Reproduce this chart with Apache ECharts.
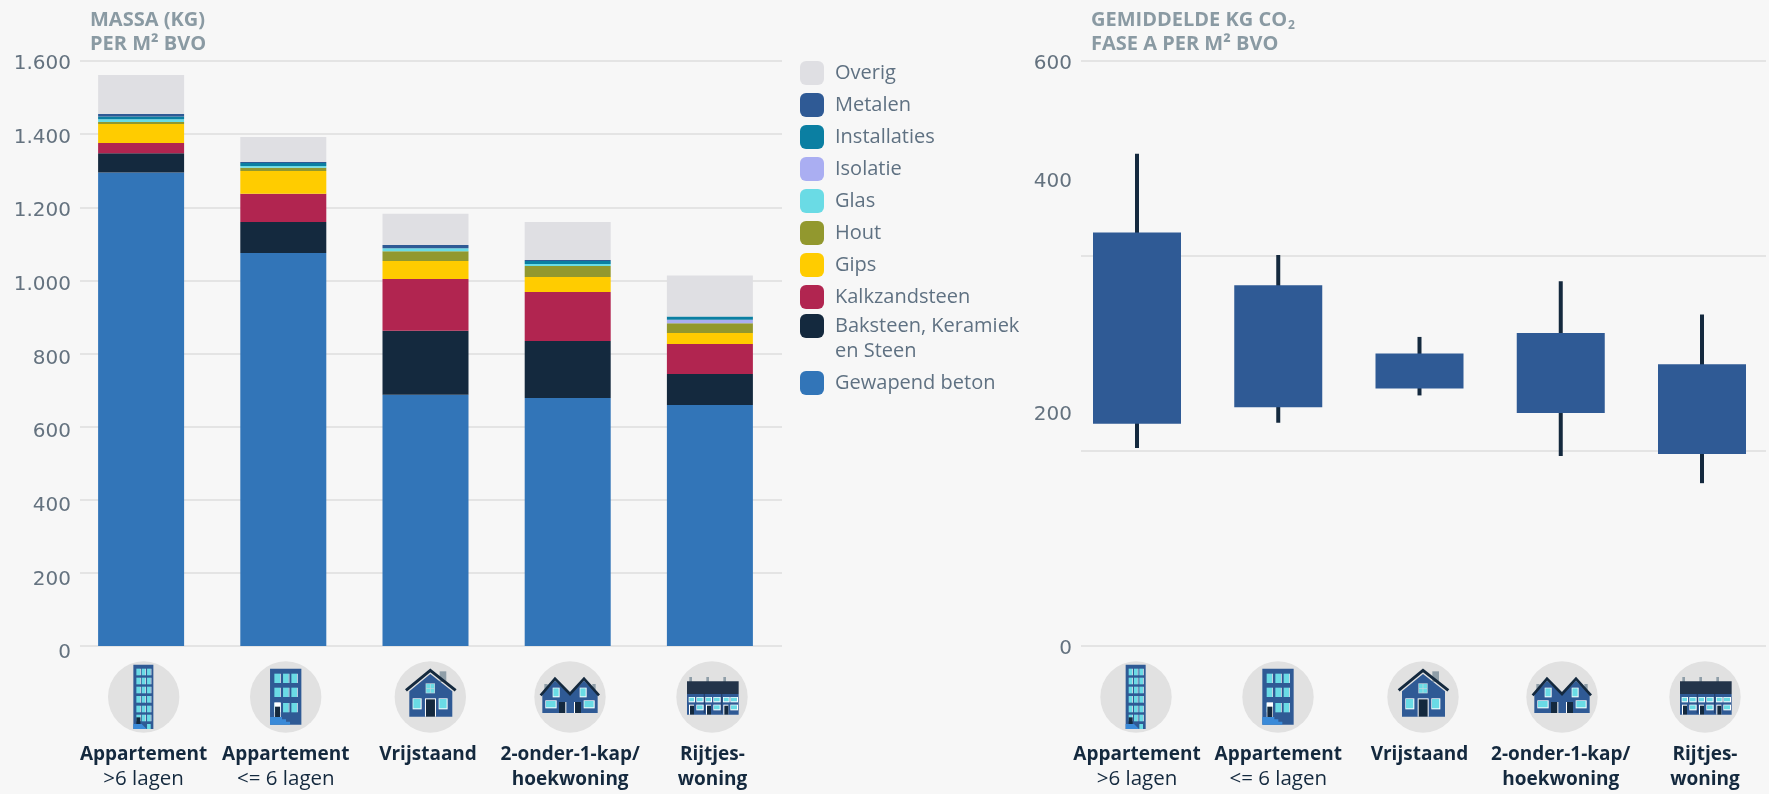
<!DOCTYPE html>
<html><head><meta charset="utf-8">
<style>html,body{margin:0;padding:0;background:#f7f7f7}#c{width:1769px;height:794px}</style>
<script src="https://cdn.jsdelivr.net/npm/echarts@6/dist/echarts.min.js"></script>
</head><body><div id="c"></div>
<script>
const buildingTypes = ['Appartement >6 lagen','Appartement <= 6 lagen','Vrijstaand','2-onder-1-kap/ hoekwoning','Rijtjes-woning'];
const massTicks = [0,200,400,600,800,1000,1200,1400,1600];
const massTickLabels = ['0','200','400','600','800','1.000','1.200','1.400','1.600'];
const co2Ticks = [0,200,400,600];
const co2TickLabels = ['0','200','400','600'];

const gewapendBeton = [1295,1075,687,678,659];
const baksteen      = [53,85,175,156,85];
const kalkzandsteen = [28,77,142,134,82];
const gips          = [52,62,49,41,30];
const hout          = [5,9,27,30,27];
const glas          = [8,5,8,6,0];
const isolatie      = [0,0,0,0,9];
const installaties  = [7,8,0,8,9];
const metalen       = [7,3,9,3,0];
const overig        = [107,68,85,104,112];

const co2Low  = [203,229,257,195,167];
const co2Q1   = [228,245,264,239,197];
const co2Q3   = [424,370,300,321,289];
const co2High = [505,401,317,374,340];

const DARK='#14293e', BLUE='#2f5a95', CYAN='#6adbe5', GREY='#8f9ea8', STEP='#3a8ad8';
const FONT='Open Sans', TICKFONT='DejaVu Sans';
const stack = [
 ['Gewapend beton',gewapendBeton,'#3275b8'],
 ['Baksteen, Keramiek en Steen',baksteen,DARK],
 ['Kalkzandsteen',kalkzandsteen,'#b12550'],
 ['Gips',gips,'#ffcc00'],
 ['Hout',hout,'#92982e'],
 ['Glas',glas,CYAN],
 ['Isolatie',isolatie,'#aaaef2'],
 ['Installaties',installaties,'#0b7fa2'],
 ['Metalen',metalen,BLUE],
 ['Overig',overig,'#dfdfe3']
];

function catLabels(extra){
  return {
    show:true, interval:0, margin:96, verticalAlign:'top', lineHeight:25,
    formatter:(v,i)=>{
      const st = i===4 ? extra.last : extra.std;
      const lines = [
        [`{${st}B|Appartement}`,`{${st}N|>6 lagen}`],
        [`{${st}B|Appartement}`,`{${st}N|<= 6 lagen}`],
        [`{${st}B|Vrijstaand}`],
        [`{${st}B|2-onder-1-kap/}`,`{${st}B|hoekwoning}`],
        [`{${st}B|Rijtjes-}`,`{${st}B|woning}`]
      ][i];
      return lines.join('\n');
    },
    rich:{
      aB:{fontFamily:FONT,fontWeight:'bold',fontSize:19,lineHeight:25,color:DARK,padding:[0,0,0,extra.pad]},
      aN:{fontFamily:FONT,fontSize:20.5,lineHeight:25,color:DARK,padding:[0,0,0,extra.pad]},
      bB:{fontFamily:FONT,fontWeight:'bold',fontSize:19,lineHeight:25,color:DARK,padding:[0,0,0,extra.padLast]},
      bN:{fontFamily:FONT,fontSize:20.5,lineHeight:25,color:DARK,padding:[0,0,0,extra.padLast]}
    }
  };
}
function tickAxis(gridIndex,max,interval,ticks,labels,offsets){
  const rich={};
  ticks.forEach((t,i)=>{
    const o=offsets[i];
    rich['t'+t]={fontFamily:TICKFONT,fontSize:20,color:'#64727f',
      padding:[o>0?2*o:0,0,o<0?-2*o:0,0]};
  });
  return {type:'value',gridIndex,min:0,max,interval,
    axisLine:{show:false},axisTick:{show:false},
    splitLine:{show:true,lineStyle:{color:'#e4e4e4',width:2}},
    axisLabel:{margin:9,formatter:v=>`{t${v}|${labels[ticks.indexOf(v)]}}`,rich}};
}
const hiddenY=(g,max)=>({type:'value',gridIndex:g,min:0,max,show:false,splitLine:{show:false}});
const hiddenX=(g)=>({type:'value',gridIndex:g,min:0,max:1,show:false,splitLine:{show:false}});
const catX=(g,lab,gap)=>({type:'category',gridIndex:g,data:buildingTypes,boundaryGap:gap,
  axisLine:{show:false},axisTick:{show:false},splitLine:{show:false},axisLabel:lab});

/* ---------- small house illustrations, drawn in a 3x drawing space ---------- */
const R=(x0,y0,x1,y1,c)=>({type:'rect',shape:{x:x0,y:y0,width:x1-x0,height:y1-y0},style:{fill:c}});
const P=(pts,c)=>({type:'polygon',shape:{points:pts},style:{fill:c}});
const L=(pts,c,w)=>({type:'polyline',shape:{points:pts},style:{stroke:c,lineWidth:w,fill:'none'}});
const W=(x0,y0,x1,y1,c)=>[R(x0-2,y0-2,x1+3,y1+3,'#ffffff'),R(x0,y0,x1,y1,c||CYAN)];
function iconTower(){
  let a=[R(100,30,160,223,BLUE)];
  [42,69,96,124,153,180].forEach(y=>[109,125,141].forEach(x=>{a.push(R(x,y,x+11,y+20,CYAN),R(x+11,y,x+13,y+20,'#ffffff'));}));
  a.push(R(141,208,152,223,CYAN),R(109,188,121,210,DARK),P([[100,208],[125,208],[140,223],[100,223]],STEP));
  return a;
}
function iconFlat(){
  let a=[R(84,42,178,210,BLUE)];
  [57,99,145].forEach(y=>[97,123,148].forEach(x=>{a.push(R(x,y,x+17,y+28,CYAN),R(x+17,y,x+19,y+28,'#ffffff'));}));
  a.push(R(97,143,116,187,'#ffffff'),R(99,156,114,187,DARK));
  a.push(P([[84,187],[120,187],[120,194],[132,194],[132,201],[144,201],[144,210],[84,210]],STEP));
  return a;
}
function iconHouse(){
  return [R(164,50,184,82,GREY),P([[73,110],[136,58],[202,110],[202,186],[73,186]],BLUE),
    L([[63,107],[136,47],[212,107]],DARK,9),
    R(122,86,150,116,'#c4d6dd'),R(124,88,135,100,CYAN),R(137,88,148,100,CYAN),R(124,102,135,114,CYAN),R(137,102,148,114,CYAN),
    ...W(85,133,107,161),...W(163,133,185,161),R(120,131,153,186,'#ffffff'),R(123,134,150,186,DARK)];
}
function iconSemi(){
  return [R(58,88,68,112,GREY),R(202,88,212,112,GREY),
    P([[52,118],[90,78],[135,118],[177,78],[218,118],[218,175],[52,175]],BLUE),
    L([[47,122],[90,72],[135,118],[177,72],[222,122]],DARK,8),
    ...W(85,101,101,125),...W(166,101,182,125),...W(63,139,92,158),...W(178,139,206,158),
    R(102,142,124,175,'#ffffff'),R(102,142,121,175,DARK),R(147,142,168,175,'#ffffff'),R(150,142,168,175,DARK)];
}
function iconRow(){
  let a=[R(67,67,75,82,GREY),R(118,67,126,82,GREY),R(169,67,177,82,GREY),R(60,80,215,118,'#23344a'),R(60,118,215,180,BLUE),
    R(110,118,114,176,'#23406e'),R(162,118,166,176,'#23406e')];
  [[67,81],[90,107],[117,132],[141,158],[170,185],[192,210]].forEach(p=>a.push(...W(p[0],129,p[1],140)));
  [[90,107],[141,158],[192,210]].forEach(p=>a.push(...W(p[0],152,p[1],164)));
  [66,117,169].forEach(x=>a.push(R(x,150,x+15,180,'#ffffff'),R(x+3,153,x+15,180,DARK)));
  return a;
}
const icons=[[iconTower,131],[iconFlat,131],[iconHouse,136],[iconSemi,135],[iconRow,135]];
const iconCentresLeft=[143.7,285.7,430.3,570,712];
const iconCentresRight=[1136,1278,1423,1562,1705];
function iconGroups(centres){
  return centres.map((cx,i)=>({type:'group',x:cx,y:697,silent:true,children:[
    {type:'circle',shape:{cx:0,cy:0,r:35.7},style:{fill:'#e1e1e1'}},
    {type:'group',scaleX:1/3,scaleY:1/3,x:-icons[i][1]/3,y:-127/3,children:icons[i][0]()}
  ]}));
}

const LSIZE=20;
const legendRich={n:{fontFamily:FONT,fontSize:LSIZE,color:'#5f7182',padding:[1,0,0,6]},
  g:{fontFamily:FONT,fontSize:LSIZE,color:'#5f7182',lineHeight:25,padding:[0,0,0,6]}};
const legendBase={orient:'vertical',left:800,padding:0,icon:'roundRect',itemWidth:24,itemHeight:24,itemGap:8,selectedMode:false,
  textStyle:{rich:legendRich},
  formatter:n=>n==='Baksteen, Keramiek en Steen'?'{g| }\n{g|Baksteen, Keramiek}\n{g|en Steen}':`{n|${n}}`};

const series=stack.map(s=>({name:s[0],type:'bar',xAxisIndex:1,yAxisIndex:1,stack:'m',data:s[1],barWidth:86,
  itemStyle:{color:s[2]},emphasis:{disabled:true},animation:false,silent:true}));
series.push({type:'custom',name:'CO2',xAxisIndex:3,yAxisIndex:3,animation:false,silent:true,clip:false,
  data:buildingTypes.map((b,i)=>[i,co2Low[i],co2Q1[i],co2Q3[i],co2High[i]]),
  encode:{x:0,y:[1,2,3,4]},
  renderItem:(params,api)=>{
    const x=api.value(0);
    const lo=api.coord([x,api.value(1)]),q1=api.coord([x,api.value(2)]),q3=api.coord([x,api.value(3)]),hi=api.coord([x,api.value(4)]);
    const w=88;
    return {type:'group',children:[
      {type:'rect',shape:{x:lo[0]-2,y:hi[1],width:4,height:lo[1]-hi[1]},style:{fill:DARK}},
      {type:'rect',shape:{x:q3[0]-w/2,y:q3[1],width:w,height:q1[1]-q3[1]},style:{fill:BLUE}}
    ]};
  }});

const titleStyle={fontFamily:FONT,fontWeight:'bold',fontSize:20,lineHeight:24,color:'#8a9aa3'};
const chart=echarts.init(document.getElementById('c'),null,{renderer:'canvas'});
chart.setOption({
  backgroundColor:'#f7f7f7',animation:false,tooltip:{show:false},
  title:[
    {left:85,top:3,text:'MASSA (KG)\nPER M² BVO',textStyle:titleStyle},
    {left:1086,top:3,text:'GEMIDDELDE KG CO{s|2}\nFASE A PER M² BVO',textStyle:{...titleStyle,
      rich:{s:{fontFamily:FONT,fontWeight:'bold',fontSize:12,color:'#8a9aa3',padding:[12,0,0,1]}}}}
  ],
  legend:[
    {...legendBase,top:61,data:['Overig','Metalen','Installaties','Isolatie','Glas','Hout','Gips','Kalkzandsteen']},
    {...legendBase,top:291,data:['Baksteen, Keramiek en Steen']},
    {...legendBase,top:371,data:['Gewapend beton']}
  ],
  grid:[
    {left:80,top:61,width:702,height:585},
    {left:70,top:61,width:711,height:585},
    {left:1081,top:61,width:685,height:585},
    {left:1137,top:61,width:565,height:585}
  ],
  xAxis:[hiddenX(0),catX(1,catLabels({std:'a',last:'a',pad:5,padLast:5}),true),hiddenX(2),catX(3,catLabels({std:'a',last:'b',pad:0,padLast:6}),false)],
  yAxis:[
    tickAxis(0,1600,200,massTicks,massTickLabels,massTicks.map(v=>2.7+(1600-v)/1600*4.3)),
    hiddenY(1,1600),
    tickAxis(2,600,200,co2Ticks,co2TickLabels,[3,-36,-74.5,3]),
    hiddenY(3,600)
  ],
  series,
  graphic:{elements:[...iconGroups(iconCentresLeft),...iconGroups(iconCentresRight)]}
});
</script></body></html>
